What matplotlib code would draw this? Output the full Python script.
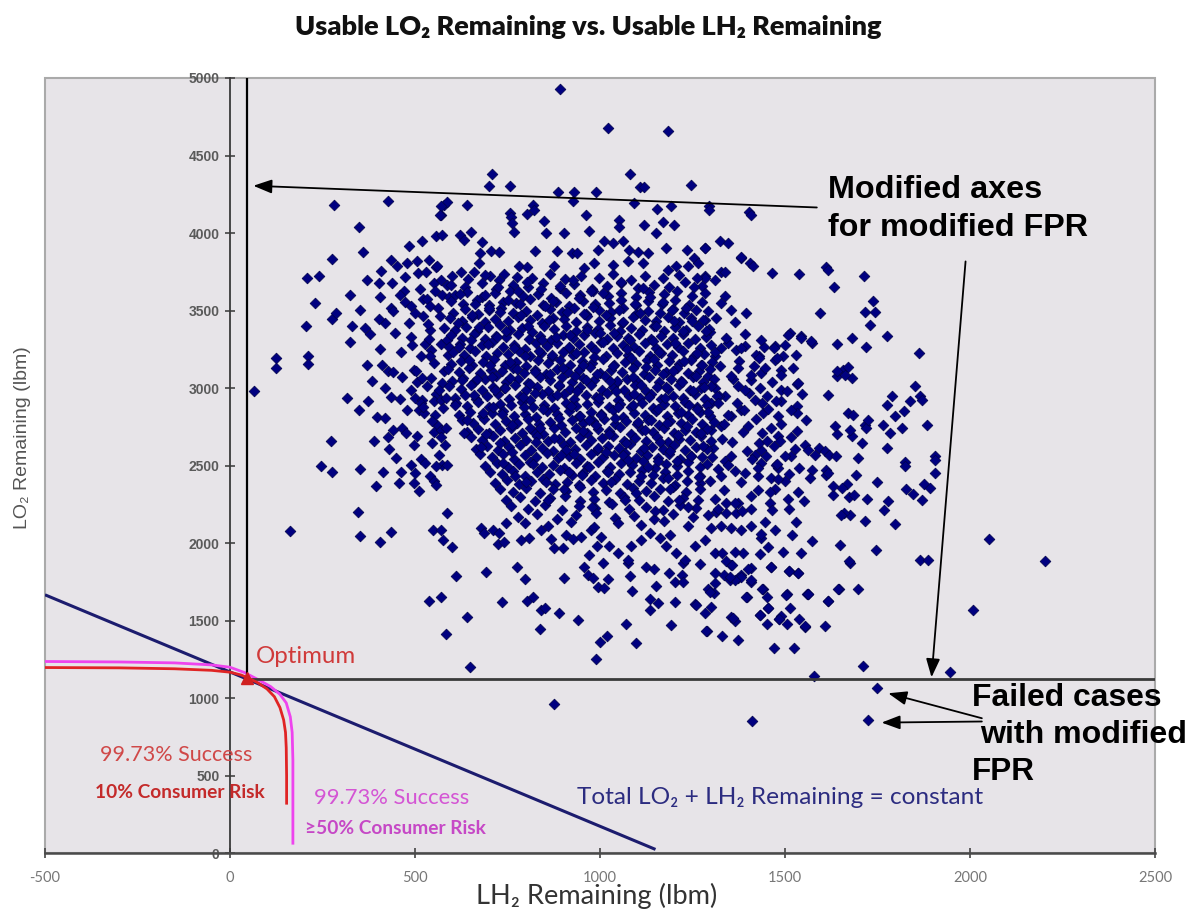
import matplotlib
matplotlib.use("Agg")
import matplotlib.pyplot as plt
from matplotlib.patches import Rectangle

# ---------------- data ----------------
x_ticks = [-500, 0, 500, 1000, 1500, 2000, 2500]
x_tick_labels = ["-500", "0", "500", "1000", "1500", "2000", "2500"]
y_ticks = [0, 500, 1000, 1500, 2000, 2500, 3000, 3500, 4000, 4500, 5000]
y_tick_labels = ["0", "500", "1000", "1500", "2000", "2500", "3000", "3500", "4000", "4500", "5000"]

# Monte Carlo cases (LH2 remaining, LO2 remaining)
cases_left = [
    (65, 2980), (125, 3195), (125, 3130), (163, 2080), (208, 3710), (240, 3725), (230, 3550), (205, 3400),
    (212, 3205), (212, 3155), (280, 4180), (276, 3830), (276, 3445), (287, 3485), (323, 3598), (330, 3400),
    (325, 3297), (316, 2935), (273, 2656), (246, 2500), (276, 2462), (350, 2478), (345, 2198), (350, 2047),
    (406, 2006), (434, 2069), (348, 4036), (360, 3875), (370, 3700), (379, 3350), (372, 2914), (406, 3250),
    (404, 3677), (409, 3753), (406, 3586), (420, 3423), (427, 4204), (397, 2813), (420, 2806), (430, 2606),
    (413, 2456), (456, 2391), (441, 2731), (465, 2742), (476, 2710), (435, 2940), (459, 2929), (427, 3112),
    (441, 3103), (466, 3069), (434, 3828), (451, 3789), (479, 3806), (483, 3914), (506, 3817), (520, 3946),
    (537, 3828), (558, 3781), (556, 3978), (574, 3989), (578, 4183), (569, 4118), (586, 4198), (470, 3624),
    (459, 3602), (474, 3553), (488, 3527), (501, 3484), (513, 3639), (522, 3574), (533, 3574), (540, 3527),
    (522, 3467), (551, 3677), (553, 3628), (569, 3699), (574, 3602), (587, 3667), (434, 3516), (441, 3495),
    (490, 3329), (492, 3279), (526, 3286), (540, 3372), (538, 3316), (542, 3243), (540, 3208), (569, 3286),
    (587, 3312), (497, 3118), (504, 3108), (506, 3039), (533, 3011), (556, 2964), (578, 3108), (574, 3033),
    (565, 2990), (501, 2935), (519, 2925), (510, 2860), (524, 2838), (515, 2903), (522, 2881), (551, 2914),
    (569, 2925), (576, 2871), (553, 2828), (560, 2763), (551, 2720), (547, 2645), (569, 2731), (583, 2742),
    (571, 2684), (515, 2543), (488, 2506), (501, 2452), (497, 2388), (510, 2334), (540, 2431), (551, 2399),
    (558, 2377), (574, 2506), (587, 2506), (586, 2194), (549, 2086), (571, 2086), (576, 2021), (537, 1627),
    (569, 1655),
    (352, 3504), (371, 3151), (389, 2661), (402, 3444), (418, 3001), (437, 3681), (449, 2551), (463, 3235),
    (478, 2858), (485, 3422), (496, 2632), (509, 3744), (518, 3066), (528, 2515), (534, 3416), (545, 2790),
    (552, 3161), (561, 3519), (566, 2569), (579, 3390), (584, 2937), (590, 3213), (348, 2857), (364, 3388),
    (383, 3046), (395, 2368), (412, 3146), (428, 2686), (446, 3357), (461, 2458), (473, 3716), (488, 2985),
    (505, 2688), (516, 3207), (530, 3749), (543, 3066), (557, 2497), (568, 3467), (581, 2630), (593, 3585),
]

cases_low = [
    (612, 1791), (693, 1813), (777, 1845), (798, 1767), (902, 1774), (641, 1522), (583, 1413), (648, 1200),
    (736, 1619), (804, 1628), (820, 1652), (840, 1570), (851, 1585), (838, 1447), (888, 1552), (940, 1505),
    (957, 1849), (967, 1795), (981, 1774), (994, 1720), (1012, 1709), (1021, 1767), (1007, 1875), (989, 1252),
    (1001, 1365), (1018, 1402), (1069, 1479), (1098, 1355), (1082, 1789), (1087, 1692), (1075, 1875), (1125, 1845),
    (1147, 1832), (1134, 1639), (1134, 1570), (1158, 1617), (1151, 1725), (1186, 1806), (1203, 1752), (1203, 1619),
    (1191, 1473), (1223, 1871), (1221, 1795), (1223, 1752), (1269, 1866), (1258, 1606), (1283, 1548), (1301, 1591),
    (1289, 1436), (1292, 1703), (1307, 1677), (1310, 1806), (1310, 1742), (1335, 1795), (1355, 1860), (1350, 1763),
    (1373, 1774), (1382, 1795), (1407, 1838), (1407, 1752), (1330, 1402), (1355, 1527), (1364, 1501), (1373, 1376),
    (1396, 1650), (1432, 1537), (1441, 1703), (1455, 1585), (1450, 1480), (1463, 1845), (1484, 1510), (1470, 1322),
    (1506, 1673), (1511, 1822), (1534, 1806), (1554, 1462), (1563, 1673), (1617, 1628), (1646, 1703), (1676, 1871),
    (1579, 1146), (1712, 1208), (1947, 1172), (1697, 1703), (1559, 1673), (1450, 1651), (1513, 1580), (1537, 1509),
    (1488, 1533), (1506, 1477), (1608, 1466), (1525, 1322), (1287, 1435), (1260, 1602),
    (599, 1973), (678, 2096), (687, 2064), (710, 2086), (728, 2064), (746, 2133), (723, 1993), (741, 2010),
    (786, 2021), (809, 2032), (840, 2086), (867, 2026), (876, 1968), (899, 1968), (908, 2054), (926, 2026),
    (949, 2043), (975, 2086), (1002, 2043), (993, 1983), (970, 1925), (1025, 1979), (1048, 1936), (1075, 1892),
    (1084, 1979), (1111, 2021), (1134, 2064), (1161, 2032), (1188, 2054), (1179, 1979), (1206, 1936), (1229, 1892),
    (1256, 1979), (1283, 2021), (1310, 1936), (1386, 1936), (1341, 1882),
]

cases_right = [
    (1777, 3337), (1863, 3226), (1852, 3015), (1866, 2946), (1870, 2925), (1839, 2914), (1821, 2850), (1789, 2951),
    (1776, 2893), (1797, 2822), (1815, 2742), (1784, 2710), (1766, 2764), (1777, 2613), (1883, 2764), (1906, 2560),
    (1906, 2538), (1906, 2452), (1824, 2521), (1824, 2495), (1875, 2383), (1892, 2355), (1826, 2349), (1846, 2319),
    (1869, 2276), (1779, 2269), (1767, 2215), (1748, 2394), (1721, 2284), (1715, 2144), (1796, 2123), (1676, 2183),
    (1660, 2194), (1672, 2301), (1686, 2308), (1691, 2441), (1667, 2383), (1653, 2359), (1630, 2312), (1612, 2441),
    (1612, 2474), (1698, 2549), (1707, 2646), (1680, 2689), (1676, 2732), (1640, 2706), (1635, 2753), (1716, 2764),
    (1720, 2742), (1724, 2792), (1671, 2839), (1685, 2828), (1617, 2957), (1640, 3076), (1658, 3119), (1671, 3136),
    (1680, 3065), (1640, 3285), (1682, 3322), (1719, 3264), (1572, 3290), (1533, 3028), (1533, 2882), (1533, 2839),
    (1553, 2635), (1562, 2603), (1580, 2570), (1593, 2613), (1607, 2592), (1620, 2570), (1638, 2560), (1572, 2474),
    (1568, 2420), (1615, 2452), (1630, 2366), (1651, 2183), (1674, 1882), (1649, 1990), (1746, 1958), (1865, 1893),
    (1886, 1889), (2052, 2028), (2204, 1888), (2008, 1570), (1642, 1702), (1617, 1626), (1562, 1672), (1504, 1665),
    (1534, 1805), (1511, 1823), (1543, 1939), (1495, 1946), (1574, 2011), (1518, 2050), (1529, 2134), (1474, 2082),
    (1463, 1845), (1438, 1702), (1395, 1655), (1454, 1580), (1484, 1509), (1553, 1466), (1432, 1537), (1360, 1515),
    (1407, 1763), (1380, 1780), (1366, 1763), (1350, 1785), (1296, 1688), (1358, 1860), (1400, 1832), (1432, 1929),
    (1454, 1978), (1364, 1946), (1330, 1935), (1436, 2032), (1434, 2060), (1409, 2108), (1382, 2086), (1355, 2097),
    (1328, 2108), (1301, 2097), (1292, 2183), (1314, 2198), (1341, 2194), (1368, 2194), (1310, 2284), (1341, 2262),
    (1373, 2262), (1409, 2219), (1445, 2134), (1459, 2262), (1472, 2352), (1508, 2284), (1535, 2331), (1510, 2219),
    (1499, 2399), (1481, 2485), (1463, 2420), (1427, 2431), (1434, 2517), (1391, 2452), (1364, 2463), (1328, 2431),
    (1296, 2399), (1337, 2528), (1418, 2570), (1436, 2603), (1476, 2506), (1515, 2560), (1481, 2689), (1515, 2682),
    (1431, 2646), (1400, 2753), (1440, 2839), (1481, 2817), (1490, 2914), (1535, 3033), (1490, 2990), (1450, 2946),
    (1418, 2925), (1382, 2860), (1355, 2817), (1328, 2753), (1301, 2732), (1436, 3097), (1490, 3119), (1472, 3183),
    (1431, 3204), (1513, 3355), (1472, 3269), (1544, 3333), (1409, 3054), (1373, 3011), (1337, 2946), (1301, 2903),
    (1391, 3269), (1346, 3290), (1310, 3204), (1292, 3076),
    (1298, 3362), (1305, 2615), (1312, 3003), (1318, 2478), (1324, 3142), (1330, 2672), (1335, 2345), (1341, 3326),
    (1347, 2826), (1353, 2561), (1359, 3058), (1364, 2260), (1370, 2906), (1376, 3178), (1381, 2395), (1387, 2714),
    (1393, 3351), (1398, 2595), (1404, 2968), (1409, 2306), (1415, 3145), (1421, 2804), (1426, 2484), (1432, 3003),
    (1437, 2711), (1443, 3264), (1448, 2560), (1454, 2868), (1460, 2327), (1465, 3037), (1471, 2624), (1477, 2919),
    (1482, 2413), (1488, 2771), (1494, 3207), (1499, 2564), (1505, 2981), (1511, 2449), (1516, 2860), (1522, 3129),
    (1527, 2608), (1533, 2722), (1539, 2486), (1545, 2961), (1550, 2275), (1556, 2792), (1321, 2948), (1346, 2501),
    (1367, 3247), (1389, 2860), (1412, 2542), (1439, 2902), (1461, 2745), (1486, 2658), (1318, 2222), (1353, 3081),
    (1385, 2206), (1427, 2342), (1466, 2212), (1302, 2553), (1334, 2769), (1358, 2653), (1392, 2989), (1421, 3213),
    (1452, 2656), (1478, 2509),
]

cases_top = [
    (892, 4931), (1021, 4677), (1183, 4660), (707, 4383), (700, 4301), (757, 4301), (1080, 4383), (1109, 4295),
    (1120, 4295), (1245, 4308), (887, 4264), (929, 4264), (928, 4206), (989, 4264), (1093, 4193), (569, 4172),
    (567, 4114), (640, 4178), (757, 4129), (759, 4101), (802, 4123), (820, 4183), (822, 4151), (849, 4075),
    (962, 4118), (1052, 4086), (1155, 4153), (1192, 4174), (1294, 4172), (1402, 4135), (763, 4062), (768, 4009),
    (854, 4003), (903, 4003), (971, 4015), (1052, 4041), (1120, 4052), (1152, 3998), (1170, 4069), (1201, 4052),
    (621, 3985), (632, 3957), (650, 4009), (682, 3942), (705, 3884), (727, 3877), (677, 3873), (673, 3804),
    (824, 3884), (885, 3884), (925, 3873), (937, 3869), (995, 3890), (1012, 3946), (1034, 3935), (1061, 3946),
    (1079, 3890), (1102, 3880), (1129, 3869), (1179, 3901), (1236, 3890), (1255, 3836), (1283, 3901), (1323, 3946),
    (1346, 3935), (1380, 3841), (1405, 3804), (560, 3785), (623, 3752), (659, 3752), (703, 3720), (741, 3735),
    (782, 3789), (804, 3780), (877, 3785), (957, 3774), (984, 3806), (1034, 3796), (1075, 3817), (1115, 3806),
    (1183, 3763), (1206, 3785), (1238, 3785), (1265, 3806), (1283, 3720), (1328, 3752),
    (1294, 4146), (1409, 4117), (1285, 3902), (1382, 3844), (1413, 3790), (1465, 3741), (1538, 3735), (1610, 3784),
    (1617, 3763), (1633, 3655), (1714, 3720), (1739, 3565), (1717, 3494), (1742, 3494), (1730, 3408), (1595, 3484),
    (1337, 3752), (1310, 3699), (1283, 3709), (1337, 3591), (1328, 3547), (1355, 3504), (1395, 3483), (1364, 3429),
    (1314, 3451), (1283, 3440), (1436, 3311), (1470, 3258), (1499, 3279), (1478, 3193), (1508, 3344), (1544, 3322),
    (1571, 3301), (1530, 3215), (1431, 3193), (1382, 3258), (1328, 3258), (1373, 3129), (1409, 3086), (1445, 3129),
    (1490, 3086), (1640, 3108), (1662, 3086),
]

cases_core = [
    (601, 3724), (642, 3706), (690, 3731), (728, 3698), (777, 3719), (815, 3709), (866, 3735), (905, 3702),
    (948, 3720), (996, 3711), (1034, 3738), (1083, 3700), (1121, 3726), (1170, 3707), (1214, 3729), (1262, 3713),
    (597, 3668), (634, 3651), (681, 3676), (719, 3642), (765, 3663), (806, 3655), (846, 3681), (893, 3647),
    (931, 3670), (978, 3639), (1019, 3659), (1058, 3677), (1104, 3645), (1146, 3666), (1187, 3652), (1231, 3683),
    (1275, 3660),
    (607, 3598), (640, 3619), (681, 3590), (716, 3612), (757, 3627), (792, 3594), (832, 3608), (868, 3583),
    (909, 3616), (946, 3601), (981, 3624), (1022, 3593), (1058, 3611), (1097, 3587), (1133, 3620), (1172, 3604),
    (1208, 3629), (1249, 3596), (1284, 3613),
    (596, 3561), (629, 3542), (667, 3567), (701, 3535), (739, 3556), (772, 3548), (811, 3572), (845, 3539),
    (882, 3558), (916, 3531), (954, 3564), (987, 3545), (1025, 3552), (1058, 3570), (1096, 3537), (1131, 3559),
    (1168, 3543), (1202, 3566), (1240, 3533), (1276, 3555),
    (603, 3487), (634, 3508), (669, 3479), (699, 3501), (733, 3516), (765, 3483), (800, 3497), (831, 3474),
    (866, 3511), (897, 3490), (931, 3514), (963, 3481), (998, 3505), (1030, 3492), (1063, 3519), (1096, 3477),
    (1129, 3500), (1161, 3486), (1196, 3513), (1227, 3482), (1260, 3504), (1291, 3495),
    (594, 3452), (626, 3433), (655, 3458), (688, 3425), (717, 3447), (750, 3430), (779, 3461), (812, 3438),
    (842, 3420), (874, 3455), (903, 3443), (936, 3428), (966, 3463), (997, 3436), (1028, 3449), (1060, 3422),
    (1089, 3457), (1121, 3441), (1151, 3431), (1183, 3460), (1213, 3427), (1246, 3450), (1278, 3437),
    (609, 3376), (637, 3397), (668, 3369), (697, 3391), (729, 3405), (757, 3372), (788, 3386), (816, 3364),
    (848, 3400), (876, 3380), (907, 3403), (935, 3371), (966, 3394), (995, 3381), (1026, 3408), (1054, 3366),
    (1085, 3389), (1114, 3375), (1145, 3402), (1173, 3370), (1204, 3392), (1233, 3378), (1264, 3398), (1295, 3383),
    (598, 3342), (627, 3323), (659, 3348), (688, 3316), (719, 3337), (747, 3328), (779, 3352), (808, 3319),
    (839, 3334), (867, 3311), (899, 3345), (927, 3326), (958, 3340), (987, 3353), (1018, 3318), (1046, 3338),
    (1077, 3321), (1106, 3347), (1137, 3314), (1165, 3335), (1196, 3324), (1225, 3350), (1256, 3317), (1287, 3331),
    (591, 3266), (621, 3287), (649, 3259), (680, 3281), (708, 3295), (739, 3262), (767, 3276), (798, 3254),
    (826, 3290), (857, 3270), (885, 3293), (916, 3261), (944, 3284), (975, 3271), (1003, 3298), (1034, 3256),
    (1062, 3279), (1093, 3265), (1121, 3292), (1152, 3260), (1180, 3282), (1211, 3268), (1239, 3289), (1270, 3257),
    (1301, 3277),
    (604, 3232), (633, 3213), (663, 3238), (692, 3206), (722, 3227), (751, 3218), (781, 3242), (810, 3209),
    (840, 3224), (869, 3201), (899, 3235), (928, 3216), (958, 3230), (987, 3243), (1017, 3208), (1046, 3228),
    (1076, 3211), (1105, 3237), (1135, 3204), (1164, 3225), (1194, 3214), (1223, 3240), (1253, 3207), (1282, 3221),
    (1312, 3234),
    (596, 3156), (624, 3177), (655, 3149), (683, 3171), (714, 3185), (742, 3152), (773, 3166), (801, 3144),
    (832, 3180), (860, 3160), (891, 3183), (919, 3151), (950, 3174), (978, 3161), (1009, 3188), (1037, 3146),
    (1068, 3169), (1096, 3155), (1127, 3182), (1155, 3150), (1186, 3172), (1214, 3158), (1245, 3179), (1273, 3147),
    (1304, 3167),
    (588, 3122), (618, 3103), (647, 3128), (677, 3096), (706, 3117), (736, 3108), (765, 3132), (795, 3099),
    (824, 3114), (854, 3091), (883, 3125), (913, 3106), (942, 3120), (972, 3133), (1001, 3098), (1031, 3118),
    (1060, 3101), (1090, 3127), (1119, 3094), (1149, 3115), (1178, 3104), (1208, 3130), (1237, 3097), (1267, 3111),
    (1296, 3124),
    (601, 3046), (629, 3067), (660, 3039), (688, 3061), (719, 3075), (747, 3042), (778, 3056), (806, 3034),
    (837, 3070), (865, 3050), (896, 3073), (924, 3041), (955, 3064), (983, 3051), (1014, 3078), (1042, 3036),
    (1073, 3059), (1101, 3045), (1132, 3072), (1160, 3040), (1191, 3062), (1219, 3048), (1250, 3069), (1278, 3037),
    (1309, 3057),
    (593, 3012), (623, 2993), (652, 3018), (682, 2986), (711, 3007), (741, 2998), (770, 3022), (800, 2989),
    (829, 3004), (859, 2981), (888, 3015), (918, 2996), (947, 3010), (977, 3023), (1006, 2988), (1036, 3008),
    (1065, 2991), (1095, 3017), (1124, 2984), (1154, 3005), (1183, 2994), (1213, 3020), (1242, 2987), (1272, 3001),
    (1301, 3014),
    (607, 2936), (635, 2957), (666, 2929), (694, 2951), (725, 2965), (753, 2932), (784, 2946), (812, 2924),
    (843, 2960), (871, 2940), (902, 2963), (930, 2931), (961, 2954), (989, 2941), (1020, 2968), (1048, 2926),
    (1079, 2949), (1107, 2935), (1138, 2962), (1166, 2930), (1197, 2952), (1225, 2938), (1256, 2959), (1284, 2927),
    (1315, 2947),
    (612, 2902), (641, 2883), (671, 2908), (700, 2876), (730, 2897), (759, 2888), (789, 2912), (818, 2879),
    (848, 2894), (877, 2871), (907, 2905), (936, 2886), (966, 2900), (995, 2913), (1025, 2878), (1054, 2898),
    (1084, 2881), (1113, 2907), (1143, 2874), (1172, 2895), (1202, 2884), (1231, 2910), (1261, 2877), (1290, 2891),
    (1320, 2904),
    (620, 2826), (649, 2847), (680, 2819), (708, 2841), (739, 2855), (767, 2822), (798, 2836), (826, 2814),
    (857, 2850), (885, 2830), (916, 2853), (944, 2821), (975, 2844), (1003, 2831), (1034, 2858), (1062, 2816),
    (1093, 2839), (1121, 2825), (1152, 2852), (1180, 2820), (1211, 2842), (1239, 2828), (1270, 2849), (1298, 2817),
    (628, 2792), (658, 2773), (687, 2798), (717, 2766), (746, 2787), (776, 2778), (805, 2802), (835, 2769),
    (864, 2784), (894, 2761), (923, 2795), (953, 2776), (982, 2790), (1012, 2803), (1041, 2768), (1071, 2788),
    (1100, 2771), (1130, 2797), (1159, 2764), (1189, 2785), (1218, 2774), (1248, 2800), (1277, 2767), (1307, 2781),
    (641, 2716), (670, 2737), (700, 2709), (729, 2731), (759, 2745), (788, 2712), (818, 2726), (847, 2704),
    (877, 2740), (906, 2720), (936, 2743), (965, 2711), (995, 2734), (1024, 2721), (1054, 2748), (1083, 2706),
    (1113, 2729), (1142, 2715), (1172, 2742), (1201, 2710), (1231, 2732), (1260, 2718), (1290, 2739),
    (652, 2682), (682, 2663), (711, 2688), (741, 2656), (770, 2677), (800, 2668), (829, 2692), (859, 2659),
    (888, 2674), (918, 2651), (947, 2685), (977, 2666), (1006, 2680), (1036, 2693), (1065, 2658), (1095, 2678),
    (1124, 2661), (1154, 2687), (1183, 2654), (1213, 2675), (1242, 2664), (1272, 2690), (1301, 2657),
    (664, 2606), (694, 2627), (724, 2599), (754, 2621), (783, 2635), (813, 2602), (843, 2616), (873, 2594),
    (902, 2630), (932, 2610), (962, 2633), (992, 2601), (1021, 2624), (1051, 2611), (1081, 2638), (1111, 2596),
    (1140, 2619), (1170, 2605), (1200, 2632), (1230, 2600), (1259, 2622), (1289, 2608),
    (677, 2572), (707, 2553), (737, 2578), (767, 2546), (797, 2567), (827, 2558), (857, 2582), (887, 2549),
    (917, 2564), (947, 2541), (977, 2575), (1007, 2556), (1037, 2570), (1067, 2583), (1097, 2548), (1127, 2568),
    (1157, 2551), (1187, 2577), (1217, 2544), (1247, 2565), (1277, 2554),
    (690, 2496), (721, 2517), (751, 2489), (782, 2511), (812, 2525), (843, 2492), (873, 2506), (904, 2484),
    (934, 2520), (965, 2500), (995, 2523), (1026, 2491), (1056, 2514), (1087, 2501), (1117, 2528), (1148, 2486),
    (1178, 2509), (1209, 2495), (1239, 2522), (1270, 2490),
    (703, 2462), (735, 2443), (766, 2468), (798, 2436), (829, 2457), (861, 2448), (892, 2472), (924, 2439),
    (955, 2454), (987, 2431), (1018, 2465), (1050, 2446), (1081, 2460), (1113, 2473), (1144, 2438), (1176, 2458),
    (1207, 2441), (1239, 2467), (1270, 2434),
    (716, 2386), (749, 2407), (781, 2379), (814, 2401), (846, 2415), (879, 2382), (911, 2396), (944, 2374),
    (976, 2410), (1009, 2390), (1041, 2413), (1074, 2381), (1106, 2404), (1139, 2391), (1171, 2418), (1204, 2376),
    (1236, 2399), (1269, 2385),
    (729, 2352), (765, 2333), (801, 2358), (837, 2326), (873, 2347), (909, 2338), (945, 2362), (981, 2329),
    (1017, 2344), (1053, 2321), (1089, 2355), (1125, 2336), (1161, 2350), (1197, 2363), (1233, 2328), (1269, 2348),
    (745, 2276), (785, 2297), (825, 2269), (865, 2291), (905, 2305), (945, 2272), (985, 2286), (1025, 2264),
    (1065, 2300), (1105, 2280), (1145, 2303), (1185, 2271), (1225, 2294), (1265, 2281),
    (760, 2242), (805, 2223), (851, 2248), (896, 2216), (942, 2237), (987, 2228), (1033, 2252), (1078, 2219),
    (1124, 2234), (1169, 2211), (1215, 2245), (1260, 2226),
    (778, 2166), (830, 2187), (883, 2159), (935, 2181), (988, 2195), (1040, 2162), (1093, 2176), (1145, 2154),
    (1198, 2190), (1250, 2170),
    (796, 2132), (859, 2113), (922, 2138), (985, 2106), (1048, 2127), (1111, 2118), (1174, 2142), (1237, 2109),
]

cases_core_extra = [
    (615, 3422), (652, 3311), (689, 3598), (703, 3150), (731, 3488), (744, 2999), (768, 3256), (779, 3627),
    (795, 2877), (806, 3401), (823, 3102), (838, 2740), (851, 3530), (869, 3212), (884, 2955), (893, 3659),
    (907, 2601), (919, 3341), (933, 3077), (946, 2818), (958, 3480), (971, 2489), (984, 3203), (996, 2934),
    (1009, 3612), (1023, 2702), (1037, 3358), (1046, 3046), (1061, 2567), (1072, 3255), (1088, 2890), (1095, 3543),
    (1110, 2431), (1124, 3139), (1137, 2794), (1150, 3398), (1163, 2650), (1178, 3007), (1189, 2352), (1204, 3291),
    (1219, 2845), (1232, 3515), (1246, 2561), (1259, 3079), (1273, 2712), (1287, 3368),
    (627, 3053), (640, 2795), (663, 3544), (678, 2622), (696, 3283), (712, 2878), (725, 3655), (738, 2517),
    (756, 3170), (763, 2760), (787, 3470), (799, 2397), (812, 3025), (828, 2653), (843, 3310), (859, 2278),
    (874, 3561), (888, 2808), (899, 3131), (915, 2462), (928, 3696), (939, 2981), (955, 2722), (966, 3374),
    (978, 2235), (991, 3091), (1004, 2827), (1017, 3470), (1030, 2395), (1043, 2983), (1058, 3686), (1069, 2649),
    (1083, 3192), (1097, 2326), (1110, 3021), (1121, 2732), (1136, 3589), (1149, 2207), (1160, 3232), (1175, 2938),
    (1188, 2592), (1200, 3431), (1214, 2281), (1228, 3178), (1241, 2893), (1255, 3650), (1268, 2424), (1282, 3004),
    (608, 2889), (622, 3607), (646, 3179), (660, 2954), (672, 3396), (693, 2705), (709, 3069), (721, 3329),
    (736, 2834), (750, 3567), (762, 2586), (776, 3122), (791, 2944), (803, 3687), (820, 2510), (834, 3238),
    (846, 2866), (862, 3438), (876, 2678), (890, 3021), (903, 2347), (917, 3266), (931, 2573), (942, 3583),
    (953, 3149), (969, 2796), (982, 3522), (994, 2616), (1008, 3299), (1021, 2460), (1035, 3142), (1049, 2876),
    (1063, 3428), (1076, 2535), (1090, 3073), (1104, 2779), (1117, 3647), (1131, 2490), (1146, 3191), (1158, 2868),
    (1171, 3557), (1185, 2419), (1197, 3112), (1210, 2697), (1224, 3370), (1237, 2235), (1250, 2982), (1263, 3225),
    (1279, 2624), (1292, 2847),
    (618, 3262), (633, 2712), (655, 3471), (667, 3060), (684, 2837), (700, 3518), (716, 2986), (729, 2645),
    (745, 3370), (758, 3063), (771, 2433), (784, 3540), (797, 3207), (810, 2742), (825, 2967), (840, 3638),
    (853, 2394), (866, 3091), (880, 3328), (895, 2567), (910, 3494), (922, 2886), (936, 3226), (950, 2440),
    (963, 3051), (975, 3629), (989, 2760), (1001, 3356), (1015, 2586), (1027, 3049), (1040, 2807), (1052, 3502),
    (1067, 2278), (1080, 3310), (1093, 2962), (1107, 3486), (1118, 2616), (1132, 2940), (1144, 3305), (1157, 2529),
    (1169, 3088), (1182, 2776), (1195, 3503), (1208, 2532), (1222, 3041), (1235, 2754), (1248, 3436), (1262, 2867),
    (1276, 3148), (1289, 2508),
]

failed_cases = [(875, 961), (1412, 852), (1724, 858), (1748, 1065)]

# 99.73 % success curves
red_lh2 = [-500, -300, -150, -50, 0, 30, 50, 75, 100, 120, 135, 145, 150, 152, 153, 153]
red_lo2 = [1198, 1196, 1190, 1180, 1168, 1150, 1130, 1100, 1060, 1010, 940, 860, 780, 680, 500, 323]
mag_lh2 = [-500, -300, -150, -50, 0, 40, 80, 110, 135, 152, 163, 168, 170, 170]
mag_lo2 = [1237, 1234, 1228, 1215, 1200, 1165, 1115, 1075, 1025, 970, 880, 780, 600, 65]

# total LO2 + LH2 = constant line
total_lh2 = [-500, 1150]
total_lo2 = [1667, 25]

# modified FPR axes and optimum point
mod_axes_lh2 = 46
mod_axes_lo2 = 1127
optimum_lh2 = 46
optimum_lo2 = 1129

# ---------------- figure ----------------
W, H = 1196, 915
fig = plt.figure(figsize=(W / 100, H / 100), dpi=100)
ax = fig.add_axes([45 / W, (H - 853.3) / H, 1110 / W, (853.3 - 78) / H])
ax.set_xlim(-500, 2500)
ax.set_ylim(0, 5000)
ax.set_facecolor("#e7e4e8")

for s in ["top", "right"]:
    ax.spines[s].set_visible(False)
ax.spines["left"].set_position(("data", 0))
ax.spines["left"].set_color("#3a3a3a")
ax.spines["left"].set_linewidth(1.3)
ax.spines["bottom"].set_color("#4a4a4a")
ax.spines["bottom"].set_linewidth(1.8)
ax.add_patch(Rectangle((0, 0), 1, 1, transform=ax.transAxes, fill=False,
                       edgecolor="#aaaaaa", lw=1.5, zorder=1, clip_on=False))

ax.set_xticks(x_ticks)
ax.set_xticklabels(x_tick_labels)
ax.set_yticks(y_ticks)
ax.set_yticklabels(y_tick_labels)
ax.tick_params(axis="both", direction="inout", length=7, width=1.2, color="#444444")
ax.tick_params(axis="y", pad=4, labelsize=10, labelcolor="#5a5a5a")
ax.tick_params(axis="x", pad=9, labelsize=10.5, labelcolor="#777777")
for lbl in ax.get_xticklabels():
    lbl.set_family(["Lato", "DejaVu Sans"])
for lbl in ax.get_yticklabels():
    lbl.set_family(["Liberation Sans", "DejaVu Sans"])
    lbl.set_fontweight("bold")

all_cases = (cases_left + cases_low + cases_right + cases_top + cases_core
             + cases_core_extra + failed_cases)
lh2 = [c[0] for c in all_cases]
lo2 = [c[1] for c in all_cases]
ax.scatter(lh2, lo2, marker="D", s=30, c="#000080", edgecolors="#000048",
           linewidths=0.5, zorder=3)

# curves and lines
ax.plot(total_lh2, total_lo2, color="#1c1c6e", lw=2.2, zorder=4, solid_capstyle="butt")
ax.plot(mag_lh2, mag_lo2, color="#ee44ee", lw=2.0, zorder=4)
ax.plot(red_lh2, red_lo2, color="#e02424", lw=2.0, zorder=5)
ax.plot([mod_axes_lh2, mod_axes_lh2], [mod_axes_lo2, 5000], color="black", lw=1.6, zorder=4)
ax.plot([mod_axes_lh2, 2500], [mod_axes_lo2, mod_axes_lo2], color="#3a3a3a", lw=2.0, zorder=4)
ax.plot([optimum_lh2], [optimum_lo2], marker="^", ms=8, color="#d02020", zorder=6)

# ---------------- text ----------------
myriad = ["Lato", "DejaVu Sans"]
narrow = ["Liberation Sans Narrow", "Lato", "DejaVu Sans"]
arial = ["Liberation Sans", "DejaVu Sans"]

texts = []  # (text, target width px, vertical)

def add(t, w, vertical=False):
    texts.append((t, w, vertical))
    return t

add(fig.text(588 / W, 1 - 27 / H, "Usable LO₂ Remaining vs. Usable LH₂ Remaining",
             ha="center", va="center", fontsize=19, fontweight="heavy",
             family=narrow, color="#111111"), 587)
add(fig.text(597 / W, 1 - 896 / H, "LH₂ Remaining (lbm)", ha="center", va="center",
             fontsize=18, family=myriad, color="#333333"), 241)
add(fig.text(23 / W, 1 - 438 / H, "LO₂ Remaining (lbm)", ha="center", va="center",
             rotation=90, fontsize=14, family=arial, color="#555555"), 183, True)

add(ax.text(69, 1268, "Optimum", ha="left", va="center", fontsize=14, family=myriad,
            color="#d03a3a", zorder=7), 100)
add(ax.text(-350, 635, "99.73% Success", ha="left", va="center", fontsize=14, family=myriad,
            color="#d04848", zorder=7), 152)
add(ax.text(-366, 392, "10% Consumer Risk", ha="left", va="center", fontsize=13, family=narrow,
            color="#c42a2a", zorder=7, fontweight="bold"), 170)
add(ax.text(226, 356, "99.73% Success", ha="left", va="center", fontsize=14, family=myriad,
            color="#d455d4", zorder=7), 156)
add(ax.text(203, 158, "≥50% Consumer Risk", ha="left", va="center", fontsize=13, family=narrow,
            color="#c648c6", zorder=7, fontweight="bold"), 182)
add(ax.text(938, 357, "Total LO₂ + LH₂ Remaining = constant", ha="left", va="center",
            fontsize=14, family=myriad, color="#2c2c80", zorder=7), 405)

bold_kw = dict(ha="left", va="center", fontsize=21, fontweight="bold", family=arial,
               color="black", zorder=7)
add(ax.text(1616, 4279, "Modified axes", **bold_kw), 214)
add(ax.text(1616, 4034, "for modified FPR", **bold_kw), 260)
add(ax.text(2005, 1002, "Failed cases", **bold_kw), 190)
add(ax.text(2027, 765, "with modified", **bold_kw), 207)
add(ax.text(2005, 524, "FPR", **bold_kw), 63)

fig.canvas.draw()
r = fig.canvas.get_renderer()
for t, w, vertical in texts:
    bb = t.get_window_extent(r)
    cur = bb.height if vertical else bb.width
    t.set_fontsize(t.get_fontsize() * w / cur)

# arrows
arrow_kw = dict(arrowstyle="-|>,head_length=0.8,head_width=0.3", color="black", lw=1.3,
                shrinkA=0, shrinkB=0, mutation_scale=14)
ax.annotate("", xy=(63, 4305), xytext=(1586, 4165), arrowprops=arrow_kw, zorder=6)
ax.annotate("", xy=(1896, 1135), xytext=(1988, 3817), arrowprops=arrow_kw, zorder=6)
ax.annotate("", xy=(1779, 1032), xytext=(2032, 871), arrowprops=arrow_kw, zorder=6)
ax.annotate("", xy=(1761, 843), xytext=(2032, 850), arrowprops=arrow_kw, zorder=6)

fig.savefig("out.png", dpi=100, facecolor="white")
